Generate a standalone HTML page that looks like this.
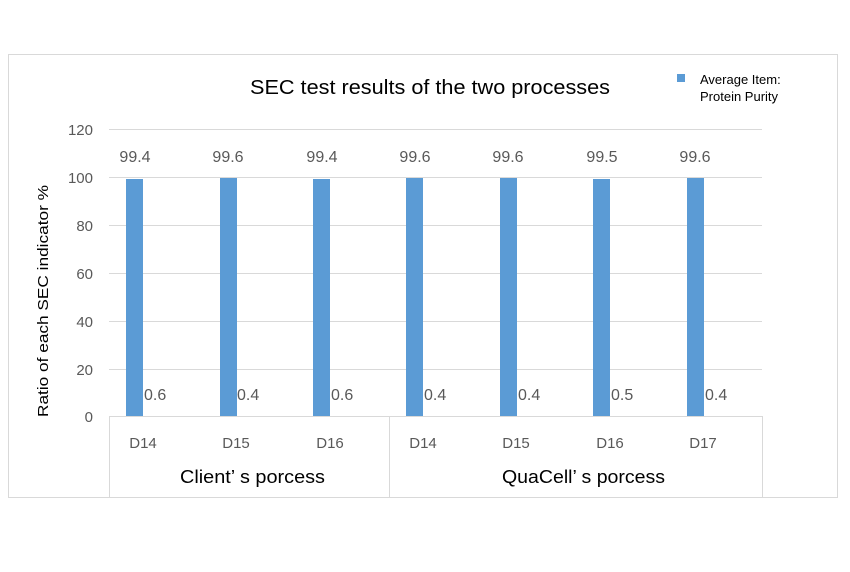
<!DOCTYPE html>
<html><head><meta charset="utf-8"><style>body{margin:0;background:#fff}</style></head><body>
<svg width="850" height="567" xmlns="http://www.w3.org/2000/svg" font-family="Liberation Sans, sans-serif">
<rect x="8.5" y="54.5" width="829" height="443" fill="#fff" stroke="#d9d9d9"/>
<g stroke="#d9d9d9" stroke-width="1">
<line x1="109" y1="129.5" x2="762" y2="129.5"/>
<line x1="109" y1="177.5" x2="762" y2="177.5"/>
<line x1="109" y1="225.5" x2="762" y2="225.5"/>
<line x1="109" y1="273.5" x2="762" y2="273.5"/>
<line x1="109" y1="321.5" x2="762" y2="321.5"/>
<line x1="109" y1="369.5" x2="762" y2="369.5"/>
<line x1="109" y1="416.5" x2="762" y2="416.5"/>
<line x1="109.5" y1="416" x2="109.5" y2="497"/>
<line x1="389.5" y1="416" x2="389.5" y2="497"/>
<line x1="762.5" y1="416" x2="762.5" y2="497"/>
</g>
<g fill="#595959" font-size="15" text-anchor="end">
<text x="93" y="135">120</text><text x="93" y="183">100</text><text x="93" y="231">80</text>
<text x="93" y="279">60</text><text x="93" y="327">40</text><text x="93" y="375">20</text><text x="93" y="422">0</text>
</g>
<text transform="translate(48,301) rotate(-90)" font-size="15" text-anchor="middle" fill="#000" textLength="232" lengthAdjust="spacingAndGlyphs">Ratio of each SEC indicator %</text>
<text x="250" y="94" font-size="20" fill="#000" textLength="360" lengthAdjust="spacingAndGlyphs">SEC test results of the two processes</text>
<rect x="677" y="74" width="8" height="8" fill="#5b9bd5"/>
<text x="700" y="84" font-size="13" fill="#000">Average Item:</text>
<text x="700" y="101" font-size="13" fill="#000">Protein Purity</text>
<g fill="#5b9bd5">
<rect x="126" y="179" width="17" height="237"/>
<rect x="220" y="178" width="17" height="238"/>
<rect x="313" y="179" width="17" height="237"/>
<rect x="406" y="178" width="17" height="238"/>
<rect x="500" y="178" width="17" height="238"/>
<rect x="593" y="179" width="17" height="237"/>
<rect x="687" y="178" width="17" height="238"/>
</g>
<g fill="#595959" font-size="16" text-anchor="middle">
<text x="135" y="162">99.4</text><text x="228" y="162">99.6</text><text x="322" y="162">99.4</text>
<text x="415" y="162">99.6</text><text x="508" y="162">99.6</text><text x="602" y="162">99.5</text><text x="695" y="162">99.6</text>
</g>
<g fill="#595959" font-size="16">
<text x="144" y="400">0.6</text><text x="237" y="400">0.4</text><text x="331" y="400">0.6</text>
<text x="424" y="400">0.4</text><text x="518" y="400">0.4</text><text x="611" y="400">0.5</text><text x="705" y="400">0.4</text>
</g>
<g fill="#595959" font-size="15" text-anchor="middle">
<text x="143" y="448">D14</text><text x="236" y="448">D15</text><text x="330" y="448">D16</text>
<text x="423" y="448">D14</text><text x="516" y="448">D15</text><text x="610" y="448">D16</text><text x="703" y="448">D17</text>
</g>
<text x="180" y="483" font-size="18" fill="#000" textLength="145" lengthAdjust="spacingAndGlyphs">Client’  s porcess</text>
<text x="502" y="483" font-size="18" fill="#000" textLength="163" lengthAdjust="spacingAndGlyphs">QuaCell’  s porcess</text>
</svg>
</body></html>
